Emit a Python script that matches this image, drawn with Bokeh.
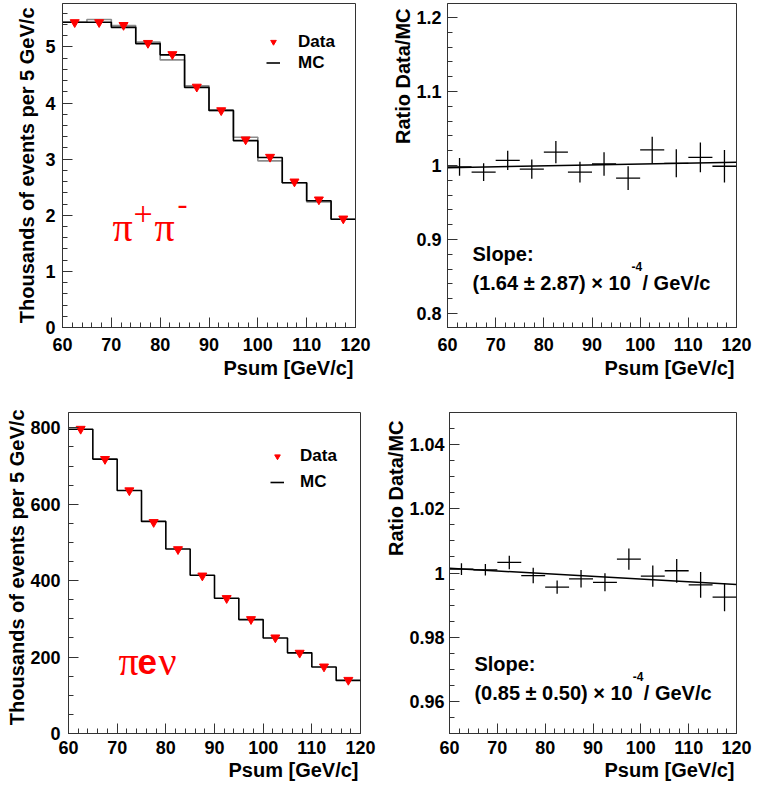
from bokeh.plotting import figure
from bokeh.models import (Range1d, Label, Legend, LegendItem, SingleIntervalTicker,
                          CustomJSTickFormatter, ColumnDataSource, Title)
from bokeh.layouts import column, row
from bokeh.embed import file_html
from bokeh.resources import INLINE

# ---------------- data ----------------
bin_edges = [60, 65, 70, 75, 80, 85, 90, 95, 100, 105, 110, 115, 120]
bin_centers = [62.5, 67.5, 72.5, 77.5, 82.5, 87.5, 92.5, 97.5, 102.5, 107.5, 112.5, 117.5]

# pi+ pi- : thousands of events per 5 GeV/c
pipi_data = [5.44, 5.44, 5.39, 5.07, 4.87, 4.29, 3.87, 3.35, 3.04, 2.60, 2.28, 1.94]
pipi_mc = [5.44, 5.44, 5.35, 5.06, 4.86, 4.28, 3.87, 3.33, 3.03, 2.58, 2.26, 1.93]
pipi_mc_alt = [5.44, 5.49, 5.38, 5.09, 4.77, 4.31, 3.87, 3.39, 2.97, 2.58, 2.24, 1.93]

# pi+ pi- : ratio Data/MC
pipi_ratio = [0.998, 0.991, 1.007, 0.995, 1.018, 0.991, 1.002, 0.983, 1.021, 1.003, 1.011, 0.999]
pipi_ratio_err = [0.012, 0.012, 0.013, 0.013, 0.015, 0.014, 0.016, 0.016, 0.018, 0.019, 0.020, 0.022]
pipi_fit_x = [60, 120]
pipi_fit_y = [0.997, 1.0045]

# pi e nu : thousands of events per 5 GeV/c
pienu_data = [797, 718, 636, 553, 482, 413, 354, 299, 251, 211, 175, 140]
pienu_mc = [796, 718, 636, 555, 483, 414, 354, 298, 250, 211, 174, 139]

# pi e nu : ratio Data/MC
pienu_ratio = [1.0012, 1.0010, 1.0033, 0.9992, 0.9956, 0.9982, 0.9971, 1.0043, 0.9990, 1.0007, 0.9963, 0.9925]
pienu_ratio_err = [0.0018, 0.0018, 0.0021, 0.0024, 0.0021, 0.0027, 0.0028, 0.0033, 0.0033, 0.0037, 0.0040, 0.0044]
pienu_fit_x = [60, 120]
pienu_fit_y = [1.0015, 0.9964]

x_title = "Psum [GeV/c]"
y_title_counts = "Thousands of events per 5 GeV/c"
y_title_ratio = "Ratio Data/MC"
slope_title = "Slope:"
pipi_slope = ["(1.64 \u00b1 2.87) \u00d7 10", "-4", " / GeV/c"]
pienu_slope = ["(0.85 \u00b1 0.50) \u00d7 10", "-4", " / GeV/c"]

FONT = "Liberation Sans"
SERIF = "Liberation Serif"
FRAME = "#333333"
X_RANGE = (60, 120)


class Panel:
    def __init__(self, width, height, bl, br, bt, bb, yr, x_org, y_org):
        self.width, self.height = width, height
        self.bl, self.br, self.bt, self.bb = bl, br, bt, bb
        self.yr = yr
        self.left = x_org + bl
        self.top = y_org + bt
        self.fw = width - bl - br
        self.fh = height - bt - bb

    def d(self, px, py):
        x0, x1 = X_RANGE
        y0, y1 = self.yr
        return (x0 + (px - self.left) / self.fw * (x1 - x0),
                y1 - (py - self.top) / self.fh * (y1 - y0))


def make_fig(g, y_interval, y_minor, xl_so, yl_so):
    p = figure(width=g.width, height=g.height, x_range=Range1d(*X_RANGE),
               y_range=Range1d(*g.yr), output_backend="svg", toolbar_location=None,
               min_border_left=g.bl, min_border_right=g.br, min_border_top=g.bt,
               min_border_bottom=g.bb, background_fill_color="white",
               border_fill_color="white")
    p.xgrid.visible = False
    p.ygrid.visible = False
    p.outline_line_color = FRAME
    p.outline_line_width = 1
    p.xaxis.ticker = SingleIntervalTicker(interval=10, num_minor_ticks=5)
    p.yaxis.ticker = SingleIntervalTicker(interval=y_interval, num_minor_ticks=y_minor)
    p.yaxis.formatter = CustomJSTickFormatter(code="return String(parseFloat(tick.toFixed(4)));")
    p.xaxis.formatter = CustomJSTickFormatter(code="return String(Math.round(tick));")
    for ax in (p.xaxis[0], p.yaxis[0]):
        ax.major_tick_in = 10
        ax.major_tick_out = 0
        ax.minor_tick_in = 5
        ax.minor_tick_out = 0
        ax.axis_line_color = FRAME
        ax.major_tick_line_color = FRAME
        ax.minor_tick_line_color = FRAME
        ax.major_label_text_font = FONT
        ax.major_label_text_font_style = "bold"
        ax.major_label_text_font_size = "18px"
        ax.major_label_text_color = "black"
    p.xaxis.major_label_standoff = xl_so
    p.yaxis.major_label_standoff = yl_so
    return p


def add_titles(p, ylabel, x_off, x_so, y_off, y_so):
    p.add_layout(Title(text=x_title, align="right", offset=x_off, standoff=x_so,
                       text_font=FONT, text_font_size="20px", text_font_style="bold",
                       text_color="black"), "below")
    p.add_layout(Title(text=ylabel, align="right", offset=y_off, standoff=y_so,
                       text_font=FONT, text_font_size="20px", text_font_style="bold",
                       text_color="black"), "left")


def add_text(p, g, px, py, text, font=FONT, size="20px", color="black", style="bold"):
    x, y = g.d(px, py)
    p.add_layout(Label(x=x, y=y, text=text, text_font=font, text_font_size=size,
                       text_color=color, text_font_style=style, text_align="left",
                       text_baseline="alphabetic"))


def step_y(vals):
    return list(vals) + [vals[-1]]


def add_counts(p, data, mc, mc_alt, legend_loc, row_h, standoff):
    if mc_alt is not None:
        p.step(x=bin_edges, y=step_y(mc_alt), mode="after", line_color="#8c8c8c", line_width=1.6)
    r_mc = p.step(x=bin_edges, y=step_y(mc), mode="after", line_color="black", line_width=1.6)
    r_data = p.scatter(x=bin_centers, y=data, marker="inverted_triangle", size=9,
                       fill_color="red", line_color="red")
    leg = Legend(items=[LegendItem(label="Data", renderers=[r_data]),
                        LegendItem(label="MC", renderers=[r_mc])],
                 location=legend_loc, border_line_color=None, background_fill_alpha=0,
                 padding=0, margin=0, spacing=0, label_height=row_h, glyph_height=row_h,
                 glyph_width=14, label_standoff=standoff, label_text_font=FONT,
                 label_text_font_style="bold", label_text_font_size="17px",
                 label_text_color="black")
    p.add_layout(leg)


def add_ratio(p, ratio, err, fit_x, fit_y):
    src = ColumnDataSource(dict(
        xl=bin_edges[:-1], xr=bin_edges[1:], xc=bin_centers, y=ratio,
        ylo=[r - e for r, e in zip(ratio, err)], yhi=[r + e for r, e in zip(ratio, err)]))
    p.line(fit_x, fit_y, line_color="black", line_width=1.5)
    p.segment(x0="xl", x1="xr", y0="y", y1="y", source=src, line_color="black", line_width=1.3)
    p.segment(x0="xc", x1="xc", y0="ylo", y1="yhi", source=src, line_color="black", line_width=1.3)


def add_slope(p, g, px, py1, py2, parts):
    add_text(p, g, px, py1, slope_title)
    add_text(p, g, px, py2, parts[0])
    add_text(p, g, px + 159, py2 - 16, parts[1], size="12px")
    add_text(p, g, px + 170, py2, parts[2])


# ---- geometry ----
G1 = Panel(388, 384, 62, 33, 3, 57, (0, 5.775), 0, 0)
G2 = Panel(364, 384, 59, 16, 3, 57, (0.781, 1.219), 388, 0)
G3 = Panel(382, 400, 68, 22, 28, 51, (0, 840), 0, 384)
G4 = Panel(370, 400, 66, 16, 28, 51, (0.95, 1.05), 382, 384)

# ---- top-left: pi+ pi- counts ----
p1 = make_fig(G1, 1, 5, 10, 7)
add_counts(p1, pipi_data, pipi_mc, pipi_mc_alt, (204, 254), 21, 18)
add_titles(p1, y_title_counts, 2, 2, 4, 10)
add_text(p1, G1, 112, 227, "π", SERIF, "40px", "red", "normal")
add_text(p1, G1, 133, 213, "+", SERIF, "34px", "red", "normal")
add_text(p1, G1, 154, 227, "π", SERIF, "40px", "red", "normal")
add_text(p1, G1, 177, 204, "-", SERIF, "30px", "red", "normal")

# ---- top-right: pi+ pi- ratio ----
p2 = make_fig(G2, 0.1, 5, 10, 6)
add_ratio(p2, pipi_ratio, pipi_ratio_err, pipi_fit_x, pipi_fit_y)
add_titles(p2, y_title_ratio, 2, 2, 5, 0)
add_slope(p2, G2, 472, 253, 282, pipi_slope)

# ---- bottom-left: pi e nu counts ----
p3 = make_fig(G3, 200, 4, 7, 8)
add_counts(p3, pienu_data, pienu_mc, None, (202, 238), 26, 16)
add_titles(p3, y_title_counts, 2, 0, -3, 0)
add_text(p3, G3, 118, 661, "π", SERIF, "40px", "red", "normal")
add_text(p3, G3, 137, 661, "e", FONT, "35px", "red", "bold")
add_text(p3, G3, 158, 661, "ν", SERIF, "40px", "red", "normal")

# ---- bottom-right: pi e nu ratio ----
p4 = make_fig(G4, 0.02, 4, 7, 5)
add_ratio(p4, pienu_ratio, pienu_ratio_err, pienu_fit_x, pienu_fit_y)
add_titles(p4, y_title_ratio, 2, 0, 8, 0)
add_slope(p4, G4, 473, 663, 692, pienu_slope)

layout = column(row(p1, p2), row(p3, p4))
open("out.html", "w").write(file_html(layout, INLINE))
